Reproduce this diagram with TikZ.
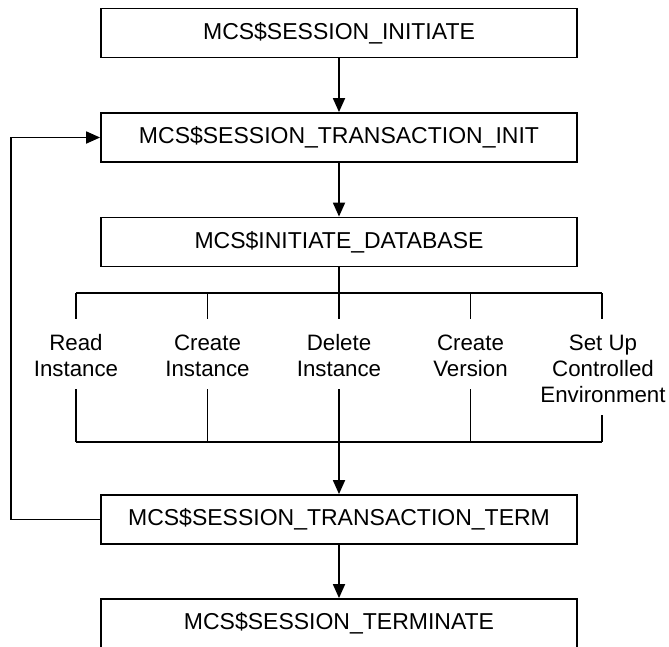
\documentclass[tikz,border=0pt]{standalone}
\usepackage{fontspec}
\setmainfont{Liberation Sans}
\usetikzlibrary{arrows.meta}
\begin{document}
\begin{tikzpicture}[x=1pt,y=-1pt,
  line width=1.8pt,
  procbox/.style={draw, rectangle, minimum width=476pt, minimum height=49pt,
    inner sep=0pt, font=\fontsize{23}{26}\selectfont},
  oplabel/.style={align=center, inner sep=0pt, font=\fontsize{22.3}{26}\selectfont},
  arr/.style={-{Triangle[length=14pt,width=12pt]}}]
\clip (0,0) rectangle (669,646);

% main process boxes
\node[procbox] (b1) at (339,33)    {MCS\$SESSION\_INITIATE};
\node[procbox] (b2) at (339,137.5) {MCS\$SESSION\_TRANSACTION\_INIT};
\node[procbox] (b3) at (339,242)   {MCS\$INITIATE\_DATABASE};
\node[procbox] (b4) at (339,519.5) {MCS\$SESSION\_TRANSACTION\_TERM};
\node[procbox] (b5) at (339,623.5) {MCS\$SESSION\_TERMINATE};

% database operations
\node[oplabel] (l1) at (76,356)  {Read\\Instance};
\node[oplabel] (l2) at (207.5,356) {Create\\Instance};
\node[oplabel] (l3) at (339,356) {Delete\\Instance};
\node[oplabel] (l4) at (470.5,356) {Create\\Version};
\node[oplabel] (l5) at (603,369) {Set Up\\Controlled\\Environment};

% sequence arrows
\draw[arr] (b1) -- (b2);
\draw[arr] (b2) -- (b3);
\draw[arr] (b4) -- (b5);

% fan-out bus below the database box
\coordinate (tb) at (339,293);
\coordinate (tl) at (76,293);
\coordinate (tr) at (602,293);
\draw (b3.south) -- (tb);
\draw (tl) -- (tr);
\foreach \i/\x in {1/76,2/207.5,3/339,4/470.5,5/602}{
  \coordinate (u\i) at (\x,293);
  \coordinate (v\i) at (\x,319);
  \draw (u\i) -- (v\i);
}

% fan-in bus above the termination box
\coordinate (bl) at (76,442);
\coordinate (br) at (602,442);
\draw (bl) -- (br);
\foreach \i/\x/\y in {1/76/389,2/207.5/389,4/470.5/389,5/602/415}{
  \coordinate (p\i) at (\x,\y);
  \coordinate (q\i) at (\x,442);
  \draw (p\i) -- (q\i);
}
\coordinate (p3) at (339,389);
\draw[arr] (p3) -- (b4);

% loop back to the next transaction
\coordinate (lb) at (11,519.5);
\coordinate (lt) at (11,137.5);
\draw[arr] (b4.west) -- (lb) -- (lt) -- (b2.west);
\end{tikzpicture}
\end{document}
